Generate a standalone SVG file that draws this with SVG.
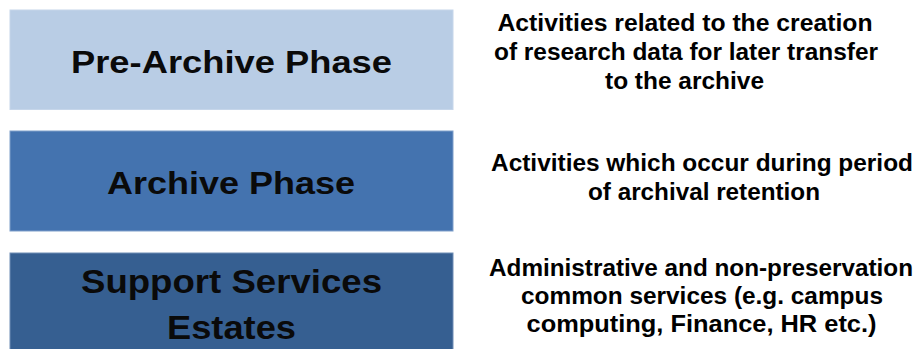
<svg xmlns="http://www.w3.org/2000/svg" width="919" height="349" viewBox="0 0 919 349">
<style>
.box{stroke-width:1}
.bt{font-family:"Liberation Sans",Arial,sans-serif;font-weight:bold;fill:#0a0a0a;text-anchor:middle}
.dt{font-family:"Liberation Sans",Arial,sans-serif;font-weight:bold;font-size:23px;fill:#000;text-anchor:middle}
</style>
<rect x="0" y="0" width="919" height="349" fill="#ffffff"/>
<g id="pre-archive">
<rect class="box" x="10" y="10" width="443" height="99.5" fill="#B9CDE5" stroke="#C6D6EA"/>
<text class="bt" x="231.5" y="73" font-size="32" textLength="321" lengthAdjust="spacingAndGlyphs">Pre-Archive Phase</text>
</g>
<g id="archive">
<rect class="box" x="10" y="131" width="443" height="100" fill="#4473AF" stroke="#7F9FCA"/>
<text class="bt" x="231" y="194" font-size="32" textLength="248" lengthAdjust="spacingAndGlyphs">Archive Phase</text>
</g>
<g id="support">
<rect class="box" x="10" y="253" width="443" height="100" fill="#365F91" stroke="#6F8DB5"/>
<text class="bt" x="231.5" y="293" font-size="34" textLength="301" lengthAdjust="spacingAndGlyphs">Support Services</text>
<text class="bt" x="231.5" y="339" font-size="34" textLength="129" lengthAdjust="spacingAndGlyphs">Estates</text>
</g>
<g id="pre-archive-desc">
<text class="dt" x="685" y="31" textLength="375" lengthAdjust="spacingAndGlyphs">Activities related to the creation</text>
<text class="dt" x="686" y="60" textLength="384" lengthAdjust="spacingAndGlyphs">of research data for later transfer</text>
<text class="dt" x="684.5" y="89" textLength="159" lengthAdjust="spacingAndGlyphs">to the archive</text>
</g>
<g id="archive-desc">
<text class="dt" x="702" y="171" textLength="422" lengthAdjust="spacingAndGlyphs">Activities which occur during period</text>
<text class="dt" x="704" y="200" textLength="232" lengthAdjust="spacingAndGlyphs">of archival retention</text>
</g>
<g id="support-desc">
<text class="dt" x="701" y="276" textLength="424" lengthAdjust="spacingAndGlyphs">Administrative and non-preservation</text>
<text class="dt" x="702" y="304" textLength="362" lengthAdjust="spacingAndGlyphs">common services (e.g. campus</text>
<text class="dt" x="701.5" y="332" textLength="350" lengthAdjust="spacingAndGlyphs">computing, Finance, HR etc.)</text>
</g>
<g id="connectors"></g>
</svg>
